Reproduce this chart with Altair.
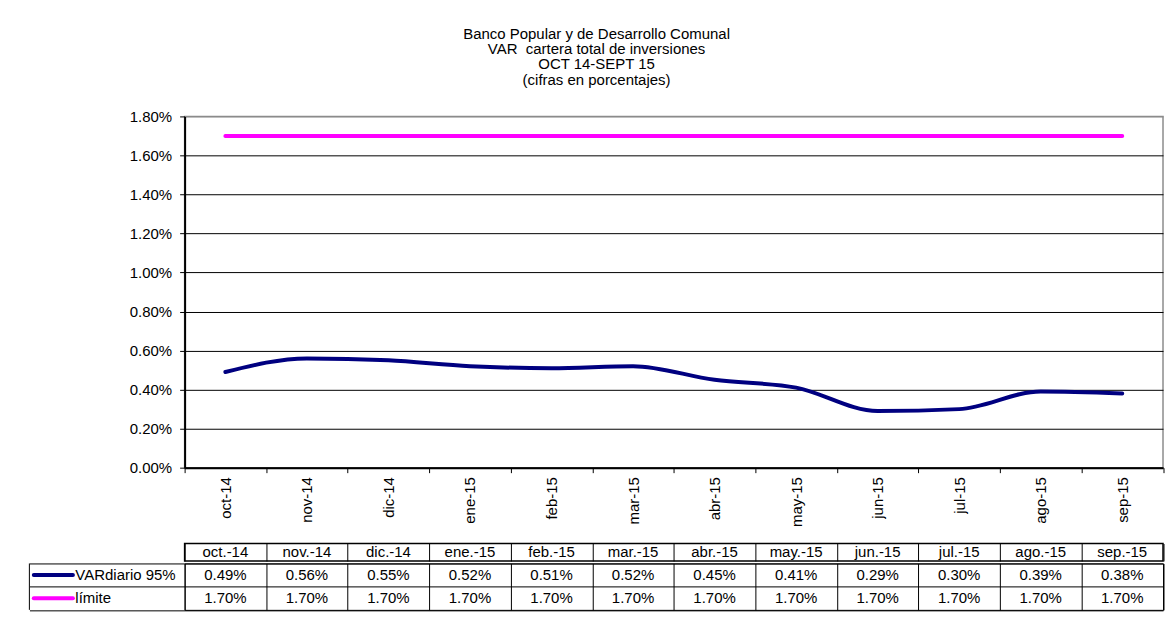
import altair as alt
import pandas as pd

# ---------------- data ----------------
months_axis = ["oct-14", "nov-14", "dic-14", "ene-15", "feb-15", "mar-15",
               "abr-15", "may-15", "jun-15", "jul-15", "ago-15", "sep-15"]
months_table = ["oct.-14", "nov.-14", "dic.-14", "ene.-15", "feb.-15", "mar.-15",
                "abr.-15", "may.-15", "jun.-15", "jul.-15", "ago.-15", "sep.-15"]
var_values = [0.0049, 0.0056, 0.0055, 0.0052, 0.0051, 0.0052,
              0.0045, 0.0041, 0.0029, 0.0030, 0.0039, 0.0038]
limit_values = [0.017, 0.017, 0.017, 0.017, 0.017, 0.017,
                0.017, 0.017, 0.017, 0.017, 0.017, 0.017]
series_names = ["VARdiario 95%", "límite"]
series_colors = ["#000080", "#FF00FF"]
y_ticks = [0.0, 0.002, 0.004, 0.006, 0.008, 0.010, 0.012, 0.014, 0.016, 0.018]
title_lines = ["Banco Popular y de Desarrollo Comunal",
               "VAR\u00a0 cartera total de inversiones",
               "OCT 14-SEPT 15",
               "(cifras en porcentajes)"]

rows = []
for s, vals in zip(series_names, [var_values, limit_values]):
    for i, (ma, mt, v) in enumerate(zip(months_axis, months_table, vals)):
        rows.append({"idx": i, "month": ma, "month_t": mt, "series": s, "value": v})
df = pd.DataFrame(rows)
df_months = pd.DataFrame({"idx": list(range(12)), "month_t": months_table})
df_series = pd.DataFrame({"series": series_names})

FONT = "Liberation Sans"
FS = 15
W = 980.5
H_PLOT = 352
COLW_LEFT = 155.5  # width of legend column in table

color = alt.Color("series:N", scale=alt.Scale(domain=series_names, range=series_colors), legend=None)

# ---------------- main plot ----------------
x_band = alt.X("month:N", sort=months_axis,
               scale=alt.Scale(type="band", paddingInner=0, paddingOuter=0),
               axis=alt.Axis(title=None, tickBand="extent", labelAngle=270, labelPadding=4,
                             tickSize=5, tickColor="black", tickWidth=1,
                             domainColor="black", domainWidth=2,
                             labelFont=FONT, labelFontSize=FS, labelColor="black"))
y_val = alt.Y("value:Q", scale=alt.Scale(domain=[0, 0.018], nice=False, zero=True),
              axis=alt.Axis(title=None, values=y_ticks, format=".2%", grid=True,
                            gridColor={"condition": {"test": "datum.value >= 0.0179", "value": "#8c8c8c"},
                                       "value": "black"},
                            gridWidth=1, tickSize=5, tickColor="black", labelPadding=8,
                            domainColor="black", domainWidth=2,
                            labelFont=FONT, labelFontSize=FS, labelColor="black"))

var_line = alt.Chart(df).transform_filter(
    alt.datum.series == series_names[0]
).mark_line(strokeWidth=4, strokeCap="round", interpolate="monotone").encode(
    x=x_band, y=y_val, color=color)
lim_line = alt.Chart(df).transform_filter(
    alt.datum.series == series_names[1]
).mark_line(strokeWidth=4, strokeCap="round").encode(
    x=x_band, y=y_val, color=color)

main = alt.layer(var_line, lim_line).properties(
    width=W, height=H_PLOT,
    view=alt.ViewBackground(stroke="#8c8c8c", strokeWidth=1.5))

# ---------------- table ----------------
x_cols = alt.X("xc:Q", scale=alt.Scale(domain=[0, 12], nice=False, zero=False),
               axis=alt.Axis(title=None, values=list(range(13)), grid=True, gridColor="black",
                             gridWidth=1, labels=False, ticks=False, domain=False))

header = alt.Chart(df_months).transform_calculate(
    xc="datum.idx + 0.5"
).mark_text(font=FONT, fontSize=FS, color="black").encode(
    x=x_cols, text="month_t:N"
).properties(width=W, height=17.5,
             view=alt.ViewBackground(stroke="black", strokeWidth=1.5))

y_rows = alt.Y("series:N", sort=series_names,
               scale=alt.Scale(type="band", paddingInner=0, paddingOuter=0),
               axis=alt.Axis(title=None, labels=False, tickBand="extent", tickSize=COLW_LEFT,
                             tickColor="black", tickWidth=1, grid=True, gridColor="black",
                             domain=False))

cells = alt.Chart(df).transform_calculate(
    xc="datum.idx + 0.5"
).mark_text(font=FONT, fontSize=FS, color="black").encode(
    x=x_cols, y=y_rows, text=alt.Text("value:Q", format=".2%"))

leg_text = alt.Chart(df_series).transform_calculate(
    xc="-1.34"
).mark_text(font=FONT, fontSize=FS, color="black", align="left").encode(
    x=x_cols, y=y_rows, text="series:N")

leg_swatch = alt.Chart(df_series).transform_calculate(
    xc="-1.85", xc2="-1.37"
).mark_rule(strokeWidth=4, strokeCap="round").encode(
    x=x_cols, x2="xc2:Q", y=y_rows, color=color)

leg_border = alt.Chart(df_series).transform_aggregate(
    n="count()"
).transform_calculate(
    xc="-1.904"
).mark_rule(color="black", strokeWidth=1).encode(x=x_cols)

data_tbl = alt.layer(cells, leg_text, leg_swatch, leg_border).properties(
    width=W, height=46.5,
    view=alt.ViewBackground(stroke="black", strokeWidth=1))

table = alt.vconcat(header, data_tbl, spacing=0).resolve_scale(x="independent", y="independent")

chart = alt.vconcat(main, table, spacing=15).resolve_scale(
    x="independent", y="independent"
).properties(
    padding={"left": 20, "top": 18, "right": 0, "bottom": 0},
    title=alt.TitleParams(title_lines, font=FONT, fontSize=FS, fontWeight="normal",
                          color="black", anchor="middle", lineHeight=15.3, offset=21)
).configure(background="white")

chart.save("out.html", embed_options={"renderer": "svg", "actions": False})
